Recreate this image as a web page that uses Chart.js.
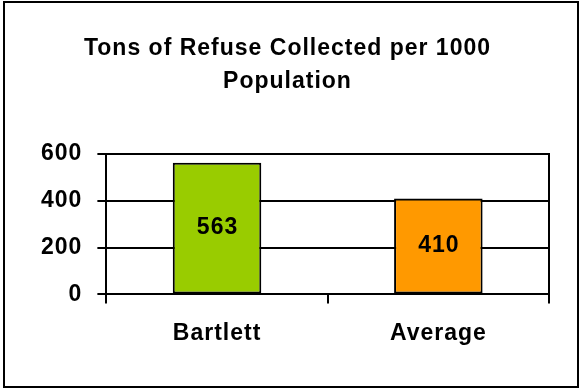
<!DOCTYPE html>
<html>
<head>
<meta charset="utf-8">
<script src="https://cdn.jsdelivr.net/npm/chart.js@4"></script>
<style>
  html, body { margin: 0; padding: 0; background: #fff; }
  #wrap { width: 581px; height: 390px; }
</style>
</head>
<body>
<div id="wrap"><canvas id="refuseChart" width="581" height="390"></canvas></div>
<script>
// chart data
const categories = ['Bartlett', 'Average'];
const tonsPer1000 = [563, 410];
const barColors = ['#99CC00', '#FF9900'];
const yTicks = [0, 200, 400, 600];

const FONT = '"Liberation Sans", Arial, sans-serif';
const SIZE = 23;
const SPACING = '1px';

// the original text is a bit wider than Arial, widen it a little
const spacing = {
    id: 'spacing',
    beforeUpdate(chart) { chart.ctx.letterSpacing = SPACING; },
    beforeRender(chart) { chart.ctx.letterSpacing = SPACING; }
};

// outer frame, right edge of plot and values in the bars
const extras = {
    id: 'extras',
    afterDraw(chart) {
        const ctx = chart.ctx;
        const area = chart.chartArea;
        ctx.save();
        ctx.strokeStyle = '#000';
        ctx.lineWidth = 2;
        ctx.strokeRect(4, 2, 574, 385);

        ctx.beginPath();
        ctx.moveTo(area.right, area.top - 1);
        ctx.lineTo(area.right, area.bottom);
        ctx.stroke();

        const meta = chart.getDatasetMeta(0);
        ctx.fillStyle = '#000';
        ctx.font = 'bold ' + SIZE + 'px ' + FONT;
        ctx.textAlign = 'center';
        ctx.textBaseline = 'middle';
        meta.data.forEach((bar, i) => {
            const y = (bar.y + bar.base) / 2;
            ctx.fillText(String(tonsPer1000[i]), bar.x + 0.5, y);
        });
        ctx.restore();
    }
};

const ctx = document.getElementById('refuseChart').getContext('2d');
new Chart(ctx, {
    type: 'bar',
    data: {
        labels: categories,
        datasets: [{
            data: tonsPer1000,
            backgroundColor: barColors,
            borderColor: '#000',
            borderWidth: 2,
            borderSkipped: false,
            barPercentage: 0.4,
            categoryPercentage: 1
        }]
    },
    options: {
        responsive: false,
        animation: false,
        layout: {
            padding: { left: 26, right: 32, top: 22, bottom: 27 }
        },
        plugins: {
            legend: { display: false },
            tooltip: { enabled: false },
            title: {
                display: true,
                text: ['Tons of Refuse Collected per 1000', 'Population'],
                color: '#000',
                font: { family: FONT, size: SIZE, weight: 'bold', lineHeight: 1.435 },
                padding: { top: 10, bottom: 56 }
            }
        },
        scales: {
            x: {
                offset: true,
                grid: {
                    offset: true,
                    drawOnChartArea: false,
                    color: '#000',
                    lineWidth: 2,
                    tickLength: 9
                },
                border: { color: '#000', width: 2 },
                ticks: {
                    color: '#000',
                    padding: 16,
                    font: { family: FONT, size: SIZE, weight: 'bold' }
                }
            },
            y: {
                min: 0,
                max: 600,
                afterBuildTicks(axis) {
                    axis.ticks = yTicks.map(v => ({ value: v }));
                },
                grid: {
                    color: '#000',
                    lineWidth: 2,
                    tickLength: 9
                },
                border: { color: '#000', width: 2 },
                ticks: {
                    color: '#000',
                    padding: 15,
                    font: { family: FONT, size: SIZE, weight: 'bold' }
                }
            }
        }
    },
    plugins: [spacing, extras]
});
</script>
</body>
</html>
